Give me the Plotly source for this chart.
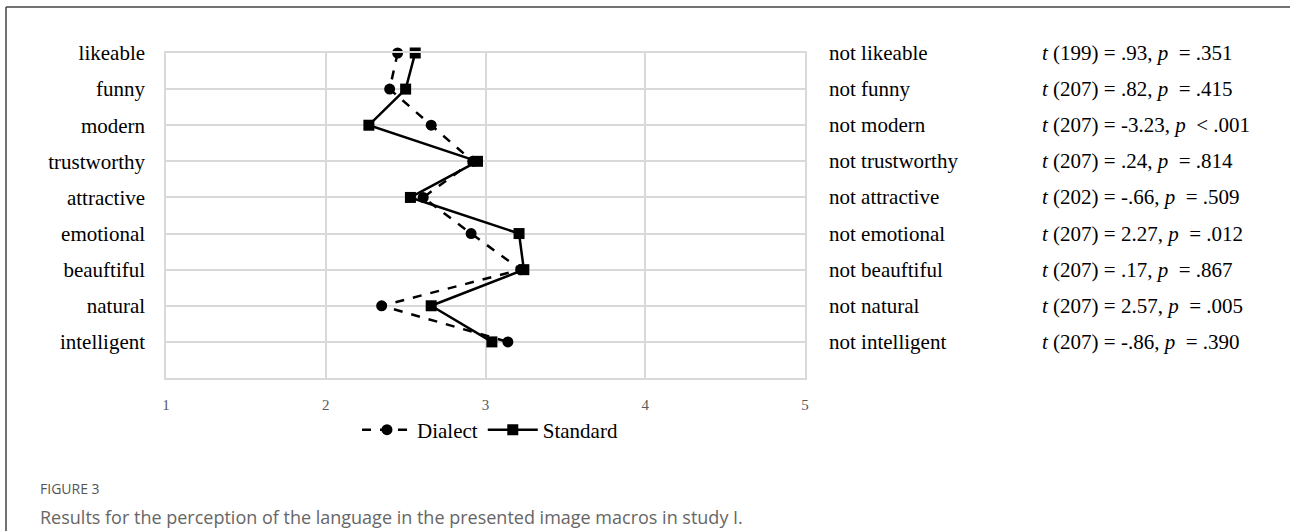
import plotly.graph_objects as go

categories = ["likeable", "funny", "modern", "trustworthy", "attractive",
              "emotional", "beauftiful", "natural", "intelligent"]
opposites = ["not likeable", "not funny", "not modern", "not trustworthy", "not attractive",
             "not emotional", "not beauftiful", "not natural", "not intelligent"]
dialect = [2.45, 2.40, 2.66, 2.92, 2.61, 2.91, 3.22, 2.35, 3.14]
standard = [2.56, 2.50, 2.27, 2.95, 2.53, 3.21, 3.24, 2.66, 3.04]
stats = [
    "<i>t</i> (199) = .93, <i>p</i>  = .351",
    "<i>t</i> (207) = .82, <i>p</i>  = .415",
    "<i>t</i> (207) = -3.23, <i>p</i>  < .001",
    "<i>t</i> (207) = .24, <i>p</i>  = .814",
    "<i>t</i> (202) = -.66, <i>p</i>  = .509",
    "<i>t</i> (207) = 2.27, <i>p</i>  = .012",
    "<i>t</i> (207) = .17, <i>p</i>  = .867",
    "<i>t</i> (207) = 2.57, <i>p</i>  = .005",
    "<i>t</i> (207) = -.86, <i>p</i>  = .390",
]
x_ticks = [1, 2, 3, 4, 5]

n = len(categories)
ypos = [n - i for i in range(n)]  # likeable at top

SERIF = "Liberation Serif, Times New Roman, serif"

fig = go.Figure()
fig.add_trace(go.Scatter(
    x=dialect, y=ypos, mode="lines+markers", name="Dialect",
    line=dict(color="black", width=2.5, dash="dash"),
    marker=dict(symbol="circle", size=11, color="black"),
    cliponaxis=False,
))
fig.add_trace(go.Scatter(
    x=standard, y=ypos, mode="lines+markers", name="Standard",
    line=dict(color="black", width=2.5),
    marker=dict(symbol="square", size=11, color="black"),
    cliponaxis=False,
))

annotations = []
for yv, opp, st in zip(ypos, opposites, stats):
    annotations.append(dict(x=1.0344, y=yv, xref="paper", yref="y", text=opp,
                            showarrow=False, xanchor="left", yanchor="middle",
                            font=dict(family=SERIF, size=21, color="black")))
    annotations.append(dict(x=1.368, y=yv, xref="paper", yref="y", text=st,
                            showarrow=False, xanchor="left", yanchor="middle",
                            font=dict(family=SERIF, size=21, color="black")))

annotations.append(dict(x=-0.2, y=-0.34, xref="paper", yref="paper", text="FIGURE 3",
                        showarrow=False, xanchor="left", yanchor="middle",
                        font=dict(family="Open Sans, sans-serif", size=14, color="#555555")))
annotations.append(dict(x=-0.2, y=-0.429, xref="paper", yref="paper",
                        text="Results for the perception of the language in the presented image macros in study I.",
                        showarrow=False, xanchor="left", yanchor="middle",
                        font=dict(family="Open Sans, sans-serif", size=18, color="#666666")))

shapes = [
    dict(type="line", xref="paper", yref="paper", x0=-0.2504, x1=-0.2504, y0=1.1415, y1=-1.0,
         line=dict(color="#444444", width=1.5)),
    dict(type="line", xref="paper", yref="paper", x0=-0.2504, x1=1.8, y0=1.1415, y1=1.1415,
         line=dict(color="#444444", width=1.5)),
]

fig.update_layout(
    width=1290, height=531,
    margin=dict(l=166, r=485, t=53, b=153),
    paper_bgcolor="white", plot_bgcolor="white",
    showlegend=True,
    legend=dict(orientation="h", x=0.507, y=-0.16, xanchor="center", yanchor="middle",
                font=dict(family=SERIF, size=21, color="black"),
                itemwidth=50, bgcolor="rgba(0,0,0,0)"),
    annotations=annotations,
    shapes=shapes,
)
fig.update_xaxes(range=[1, 5], tickvals=x_ticks, ticktext=[str(t) for t in x_ticks],
                 showgrid=True, gridcolor="#d9d9d9", gridwidth=1.5,
                 showline=True, linecolor="#d9d9d9", linewidth=1.5, mirror=True,
                 zeroline=False, ticks="", ticklabelstandoff=12,
                 tickfont=dict(family=SERIF, size=15, color="#595959"))
fig.update_yaxes(range=[0, n], tickvals=ypos, ticktext=categories,
                 showgrid=True, gridcolor="#d9d9d9", gridwidth=1.5,
                 showline=True, linecolor="#d9d9d9", linewidth=1.5, mirror=True,
                 zeroline=False, ticks="", ticklabelstandoff=15,
                 tickfont=dict(family=SERIF, size=21, color="black"))

fig.write_html("out.html", config={"displayModeBar": False},
               post_script="document.body.style.margin='0';document.body.style.overflow='hidden';")
